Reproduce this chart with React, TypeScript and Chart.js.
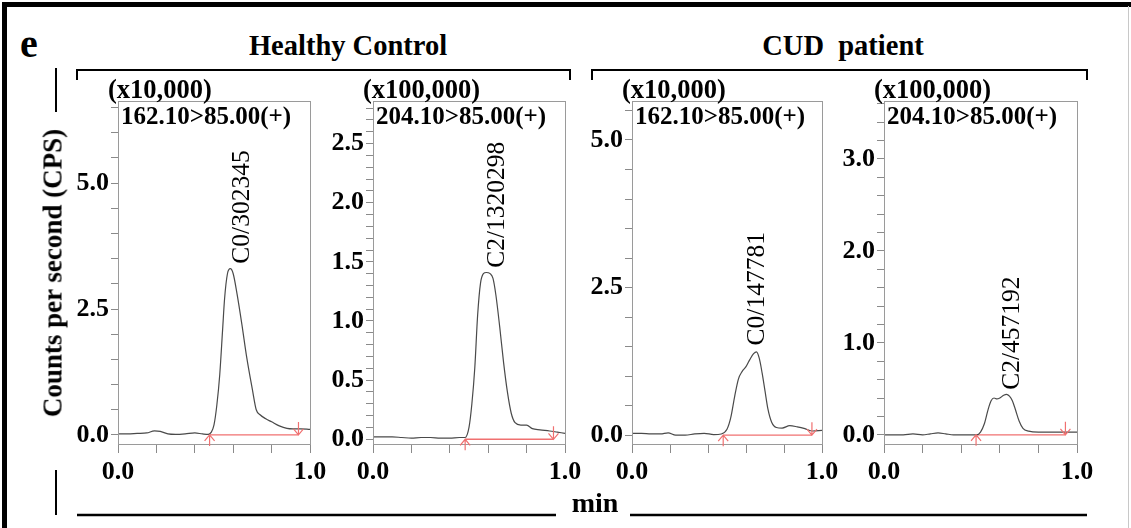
import React, { useEffect, useRef } from "react";
import { Chart, registerables } from "chart.js";
Chart.register(...registerables);

const SERIF = '"Liberation Serif", "Times New Roman", Times, serif';

// ---- x axis (min) ----
const xTickValues = [0, 0.2, 0.4, 0.6, 0.8, 1.0];
const xTickLabels = [0, 1];

// ---- Panel 1: Healthy Control, 162.10>85.00(+), x10,000 ----
const hc1Time = [0.0, 0.05, 0.1, 0.15, 0.19, 0.22, 0.26, 0.3, 0.35, 0.4, 0.44, 0.47, 0.485, 0.5, 0.515, 0.53, 0.545, 0.555, 0.57, 0.585, 0.6, 0.62, 0.645, 0.67, 0.7, 0.72, 0.74, 0.77, 0.8, 0.84, 0.88, 0.91, 0.95, 1.0];
const hc1Counts = [0.02, 0.02, 0.03, 0.04, 0.08, 0.07, 0.02, 0.01, 0.02, 0.04, 0.02, 0.01, 0.05, 0.2, 0.6, 1.2, 2.1, 2.7, 3.2, 3.3, 3.2, 2.8, 2.2, 1.55, 0.9, 0.5, 0.4, 0.32, 0.26, 0.18, 0.13, 0.12, 0.12, 0.11];
const hc1Baseline = [0.477, 0.94];
const hc1YTicks = [0, 2.5, 5.0];

// ---- Panel 2: Healthy Control, 204.10>85.00(+), x100,000 ----
const hc2Time = [0.0, 0.05, 0.1, 0.15, 0.2, 0.25, 0.3, 0.35, 0.4, 0.45, 0.48, 0.5, 0.515, 0.53, 0.545, 0.56, 0.575, 0.59, 0.61, 0.625, 0.64, 0.66, 0.68, 0.7, 0.72, 0.74, 0.77, 0.8, 0.83, 0.87, 0.92, 0.96, 1.0];
const hc2Counts = [0.02, 0.02, 0.02, 0.015, 0.01, 0.015, 0.015, 0.01, 0.01, 0.015, 0.015, 0.1, 0.3, 0.6, 1.05, 1.32, 1.4, 1.41, 1.4, 1.36, 1.22, 0.95, 0.65, 0.4, 0.22, 0.14, 0.12, 0.12, 0.09, 0.08, 0.07, 0.06, 0.05];
const hc2Baseline = [0.48, 0.94];
const hc2YTicks = [0, 0.5, 1.0, 1.5, 2.0, 2.5];

// ---- Panel 3: CUD patient, 162.10>85.00(+), x10,000 ----
const cud1Time = [0.0, 0.05, 0.1, 0.15, 0.19, 0.23, 0.28, 0.33, 0.38, 0.43, 0.47, 0.5, 0.52, 0.54, 0.56, 0.58, 0.6, 0.62, 0.64, 0.655, 0.67, 0.685, 0.7, 0.715, 0.735, 0.76, 0.79, 0.83, 0.87, 0.91, 0.95, 1.0];
const cud1Counts = [0.03, 0.03, 0.02, 0.02, 0.04, 0.0, 0.0, 0.02, 0.03, 0.01, 0.02, 0.1, 0.3, 0.65, 0.95, 1.08, 1.16, 1.28, 1.38, 1.41, 1.3, 1.05, 0.75, 0.45, 0.22, 0.13, 0.12, 0.16, 0.14, 0.11, 0.07, 0.08];
const cud1Baseline = [0.48, 0.947];
const cud1YTicks = [0, 2.5, 5.0];

// ---- Panel 4: CUD patient, 204.10>85.00(+), x100,000 ----
const cud2Time = [0.0, 0.05, 0.1, 0.15, 0.2, 0.24, 0.28, 0.32, 0.36, 0.4, 0.44, 0.48, 0.5, 0.52, 0.54, 0.555, 0.57, 0.585, 0.6, 0.62, 0.635, 0.65, 0.665, 0.68, 0.7, 0.72, 0.75, 0.8, 0.9, 1.0];
const cud2Counts = [0.0, 0.0, 0.0, 0.01, 0.0, 0.01, 0.02, 0.01, 0.0, 0.0, 0.0, 0.0, 0.03, 0.12, 0.28, 0.37, 0.4, 0.39, 0.4, 0.43, 0.44, 0.42, 0.37, 0.28, 0.15, 0.07, 0.04, 0.03, 0.03, 0.03];
const cud2Baseline = [0.477, 0.94];
const cud2YTicks = [0, 1.0, 2.0, 3.0];

// ---- labels ----
const groupTitles = ["Healthy Control", "CUD  patient"];
const transitions = ["162.10>85.00(+)", "204.10>85.00(+)", "162.10>85.00(+)", "204.10>85.00(+)"];
const scaleFactors = ["(x10,000)", "(x100,000)", "(x10,000)", "(x100,000)"];
const peakLabels = ["C0/302345", "C2/1320298", "C0/147781", "C2/457192"];
const peakLabelAt = [[0.645, 3.4], [0.646, 1.45], [0.658, 1.52], [0.663, 0.49]];
const yRanges = [[-0.18, 6.63], [-0.04, 2.86], [-0.15, 5.66], [-0.1, 3.63]];
const yMinorSteps = [0.5, 0.1, 0.5, 0.2];

// ---- layout ----
const BOX_TOP = 101;
const BOX_BOTTOM = 444;
const Y_W = 60;
const PAD_T = 24;
const PAD_R = 26;
const X_H = 48;
const boxes = [
  [118, 310],
  [373, 565],
  [632, 822],
  [884, 1077],
];

const panels = [
  { time: hc1Time, counts: hc1Counts, baseline: hc1Baseline, yTicks: hc1YTicks },
  { time: hc2Time, counts: hc2Counts, baseline: hc2Baseline, yTicks: hc2YTicks },
  { time: cud1Time, counts: cud1Counts, baseline: cud1Baseline, yTicks: cud1YTicks },
  { time: cud2Time, counts: cud2Counts, baseline: cud2Baseline, yTicks: cud2YTicks },
];

const near = (v: number, arr: number[]) => arr.some((m) => Math.abs(m - v) < 1e-6);

function Panel({ idx }: { idx: number }) {
  const ref = useRef<HTMLCanvasElement>(null);
  const p = panels[idx];
  const [bl, br] = boxes[idx];
  const width = Y_W + (br - bl) + PAD_R;
  const height = PAD_T + (BOX_BOTTOM - BOX_TOP) + X_H;
  useEffect(() => {
    const [yMin, yMax] = yRanges[idx];
    const step = yMinorSteps[idx];
    const yTickVals: number[] = [];
    for (let i = 0; i * step <= yMax + 1e-9; i++) yTickVals.push(Math.round(i * step * 1000) / 1000);

    const decor = {
      id: "decor",
      afterDatasetsDraw(chart: any) {
        const { ctx, chartArea: a, scales } = chart;
        const xs = scales.x;
        const ys = scales.y;
        ctx.save();
        ctx.strokeStyle = "#9a9a9a";
        ctx.lineWidth = 1;
        ctx.strokeRect(Math.round(a.left) + 0.5, Math.round(a.top) + 0.5, Math.round(a.right - a.left), Math.round(a.bottom - a.top));
        // integration arrows
        const yb = ys.getPixelForValue(0);
        const x0 = xs.getPixelForValue(p.baseline[0]);
        const x1 = xs.getPixelForValue(p.baseline[1]);
        ctx.strokeStyle = "#f07070";
        ctx.lineWidth = 1.2;
        ctx.beginPath();
        ctx.moveTo(x0, yb); ctx.lineTo(x0, yb + 11);
        ctx.moveTo(x0 - 5, yb + 6); ctx.lineTo(x0, yb); ctx.lineTo(x0 + 5, yb + 6);
        ctx.moveTo(x1, yb); ctx.lineTo(x1, yb - 13);
        ctx.moveTo(x1 - 5, yb - 6); ctx.lineTo(x1, yb); ctx.lineTo(x1 + 5, yb - 6);
        ctx.stroke();
        // peak label
        const [lt, lv] = peakLabelAt[idx];
        ctx.translate(xs.getPixelForValue(lt), ys.getPixelForValue(lv));
        ctx.rotate(-Math.PI / 2);
        ctx.fillStyle = "#000";
        ctx.font = `25.5px ${SERIF}`;
        ctx.textAlign = "left";
        ctx.textBaseline = "middle";
        ctx.fillText(peakLabels[idx], 0, 0);
        ctx.restore();
      },
    };

    const chart = new Chart(ref.current as HTMLCanvasElement, {
      type: "line",
      data: {
        datasets: [
          {
            data: p.time.map((t, i) => ({ x: t, y: p.counts[i] })),
            borderColor: "#4a4a4a",
            borderWidth: 1.2,
            pointRadius: 0,
            cubicInterpolationMode: "monotone",
          },
          {
            data: p.baseline.map((t) => ({ x: t, y: 0 })),
            borderColor: "#f07070",
            borderWidth: 1.3,
            pointRadius: 0,
          },
        ],
      },
      options: {
        responsive: false,
        animation: false,
        devicePixelRatio: 1,
        layout: { padding: { top: PAD_T, right: PAD_R, left: 0, bottom: 0 } },
        plugins: { legend: { display: false }, tooltip: { enabled: false } },
        scales: {
          x: {
            type: "linear",
            min: 0,
            max: 1,
            afterBuildTicks: (s: any) => {
              s.ticks = xTickValues.map((v) => ({ value: v }));
            },
            afterFit: (s: any) => {
              s.height = X_H;
            },
            grid: { drawOnChartArea: false, tickLength: 9, color: "#8a8a8a" },
            border: { display: false },
            ticks: {
              autoSkip: false,
              maxRotation: 0,
              padding: 4,
              color: "#000",
              font: { family: SERIF, size: 26, weight: "bold" },
              callback: (v: any) => (near(Number(v), xTickLabels) ? Number(v).toFixed(1) : ""),
            },
          },
          y: {
            type: "linear",
            min: yMin,
            max: yMax,
            afterBuildTicks: (s: any) => {
              s.ticks = yTickVals.map((v) => ({ value: v }));
            },
            afterFit: (s: any) => {
              s.width = Y_W;
            },
            grid: { drawOnChartArea: false, tickLength: 7, color: "#8a8a8a" },
            border: { display: false },
            ticks: {
              autoSkip: false,
              padding: 2,
              color: "#000",
              font: { family: SERIF, size: 26, weight: "bold" },
              callback: (v: any) => (near(Number(v), p.yTicks) ? Number(v).toFixed(1) : ""),
            },
          },
        },
      } as any,
      plugins: [decor],
    });
    return () => chart.destroy();
  }, [idx]);
  return (
    <canvas
      ref={ref}
      width={width}
      height={height}
      style={{ position: "absolute", left: bl - Y_W, top: BOX_TOP - PAD_T, width, height }}
    />
  );
}

function T({ x, y, size, bold = true, children, anchor = "center", rotate = 0 }: any) {
  const tx = anchor === "center" ? "-50%" : "0";
  return (
    <div
      style={{
        position: "absolute",
        left: x,
        top: y,
        transform: `translate(${tx}, -50%) rotate(${rotate}deg)`,
        fontFamily: SERIF,
        fontSize: size,
        fontWeight: bold ? "bold" : "normal",
        whiteSpace: "pre",
        lineHeight: 1,
        color: "#000",
      }}
    >
      {children}
    </div>
  );
}

export default function App() {
  return (
    <div style={{ position: "fixed", left: 0, top: 0, width: 1131, height: 528, background: "#fff", overflow: "hidden" }}>
      <svg width={1131} height={528} style={{ position: "absolute", left: 0, top: 0 }}>
        <rect x={2} y={2} width={1131} height={5} fill="#000" />
        <rect x={2} y={2} width={5} height={528} fill="#000" />
        <line x1={1128.5} y1={6} x2={1128.5} y2={528} stroke="#c8c8c8" strokeWidth={1} />
        <polyline points="77,80 77,70 570,70 570,80" fill="none" stroke="#000" strokeWidth={2} />
        <polyline points="592,80 592,70 1087,70 1087,80" fill="none" stroke="#000" strokeWidth={2} />
        <line x1={56} y1={68} x2={56} y2={112} stroke="#000" strokeWidth={2} />
        <line x1={56} y1={470} x2={56} y2={515} stroke="#000" strokeWidth={2} />
        <line x1={77} y1={515} x2={556} y2={515} stroke="#000" strokeWidth={2.5} />
        <line x1={630} y1={515} x2={1087} y2={515} stroke="#000" strokeWidth={2.5} />
      </svg>
      {panels.map((_, i) => (
        <Panel key={i} idx={i} />
      ))}
      <T x={29} y={44} size={40}>e</T>
      <T x={348} y={46} size={28.5}>{groupTitles[0]}</T>
      <T x={843} y={46} size={28.5}>{groupTitles[1]}</T>
      <T x={595} y={503} size={28}>min</T>
      <T x={53} y={273} size={27} rotate={-90}>Counts per second (CPS)</T>
      {boxes.map(([bl], i) => (
        <React.Fragment key={i}>
          <T x={bl - 10} y={89} size={26.5} anchor="left">{scaleFactors[i]}</T>
          <T x={bl + 3} y={115} size={25} anchor="left">{transitions[i]}</T>
        </React.Fragment>
      ))}
    </div>
  );
}
